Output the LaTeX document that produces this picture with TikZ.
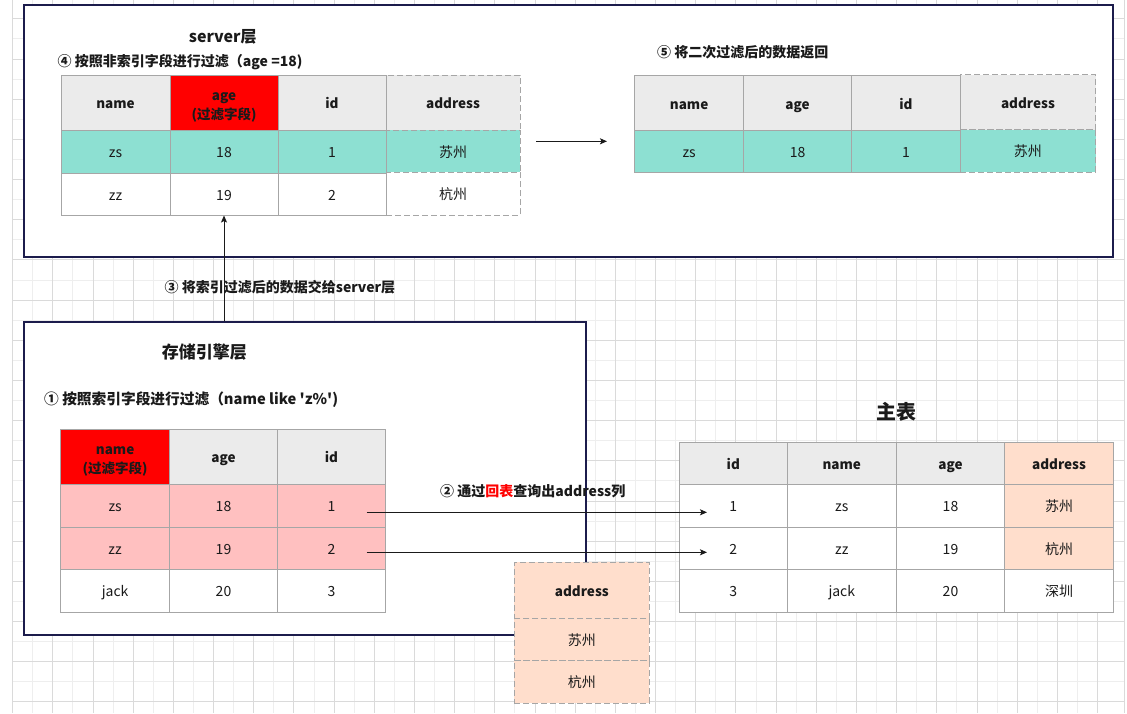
\documentclass[tikz,border=0pt]{standalone}
\usepackage{fontspec}
\setmainfont{Noto Sans CJK SC}
\newfontfamily\nf{Noto Sans CJK SC}
\usetikzlibrary{arrows.meta}
\definecolor{gridD}{HTML}{DADADA}
\definecolor{gridL}{HTML}{EEEEEE}
\definecolor{navyc}{HTML}{1C1C4C}
\definecolor{cellgray}{HTML}{A6A6A6}
\definecolor{hdrc}{HTML}{EBEBEB}
\definecolor{tealc}{HTML}{8DE0D2}
\definecolor{pinkc}{HTML}{FFC0C0}
\definecolor{peachc}{HTML}{FFDECC}
\definecolor{redc}{HTML}{FF0000}
\definecolor{txtc}{HTML}{1A1A1A}
\newcommand\tc[7]{%
  \node[cellbase,#6,minimum width={(#4-#2)*1pt},minimum height={(#5-#3)*1pt}]
    (#1) at ({(#2+#4)/2},{(#3+#5)/2}) {#7};}
\begin{document}
\begin{tikzpicture}[x=1pt,y=-1pt,
  cellbase/.style={draw=cellgray,line width=1pt,inner sep=0pt,align=center,
    text=txtc,font=\nf\fontsize{14}{16}\selectfont,anchor=center,
    text height=12pt,text depth=0pt},
  hd/.style={fill=hdrc,font=\nf\bfseries\fontsize{13.5}{16}\selectfont},
  two/.style={text height={},text depth={},font=\nf\bfseries\fontsize{13.5}{19.3}\selectfont},
  dsh/.style={dash pattern=on 6pt off 3pt},
  layerbox/.style={draw=navyc,fill=white,line width=1.1pt},
  lbl/.style={inner sep=0pt,anchor=west,text=txtc,font=\nf\bfseries\fontsize{14}{16}\selectfont},
  ttl/.style={inner sep=0pt,text=txtc,font=\nf\bfseries\fontsize{#1}{#1}\selectfont},
  arr/.style={draw=txtc,line width=1pt,-{Stealth[length=7pt,width=6pt,inset=1.5pt]}}]
\useasboundingbox (0,0) rectangle (1127,713);
\fill[white] (0,0) rectangle (1127,713);
% background grid
\foreach \i in {1,3,...,53}{\pgfmathsetmacro\xx{12.7+20.09*\i}\draw[gridL,line width=1pt] (\xx,0) -- (\xx,713);}
\foreach \j in {1,3,...,33}{\pgfmathsetmacro\yy{18.9+20.09*\j}\draw[gridL,line width=1pt] (12.7,\yy) -- (1124,\yy);}
\foreach \i in {0,2,...,54}{\pgfmathsetmacro\xx{12.7+20.09*\i}\draw[gridD,line width=1pt] (\xx,0) -- (\xx,713);}
\foreach \j in {0,2,...,34}{\pgfmathsetmacro\yy{18.9+20.09*\j}\draw[gridD,line width=1pt] (12.7,\yy) -- (1124,\yy);}
\draw[gridD,line width=1pt] (1124,0) -- (1124,713);
% layer boxes
\tc{server}{24}{5}{1113}{257}{layerbox}{}
\tc{storage}{24}{322}{586}{635}{layerbox}{}
% titles and labels
\node[ttl=16] (stitle) at (222.7,36.5) {server层};
\node[lbl] (s4) at (57.5,61.8) {④ 按照非索引字段进行过滤（age =18)};
\node[lbl] (s5) at (657,52.7) {⑤ 将二次过滤后的数据返回};
\node[lbl] (s3) at (164.5,287.3) {③ 将索引过滤后的数据交给server层};
\node[ttl=17] (etitle) at (204.4,352.5) {存储引擎层};
\node[lbl,font=\nf\bfseries\fontsize{14.7}{16}\selectfont] (s1) at (44,399.3) {① 按照索引字段进行过滤（name like 'z\%')};
\node[lbl] (s2) at (440,491.7) {② 通过\textcolor{redc}{回表}查询出address列};
\node[ttl=20] (mtitle) at (896,412.3) {主表};
% server table 1
\tc{aA}{386}{75}{520}{130}{hd,dsh}{address}
\tc{aB}{386}{130}{520}{172}{fill=tealc,dsh}{苏州}
\tc{aC}{386}{172}{520}{215}{fill=white,dsh}{杭州}
\tc{t1n}{61}{75.7}{170}{130}{hd}{name}
\tc{t1a}{170}{75.7}{278}{130}{hd,fill=redc,two}{\rule{0pt}{17pt}age\\(过滤字段)}
\tc{t1i}{278}{75.7}{386}{130}{hd}{id}
\tc{t1n1}{61}{130}{170}{173}{fill=tealc}{zs}
\tc{t1a1}{170}{130}{278}{173}{fill=tealc}{18}
\tc{t1i1}{278}{130}{386}{173}{fill=tealc}{1}
\tc{t1n2}{61}{173}{170}{215}{fill=white}{zz}
\tc{t1a2}{170}{173}{278}{215}{fill=white}{19}
\tc{t1i2}{278}{173}{386}{215}{fill=white}{2}
% server table 2
\tc{bA}{960.4}{74.5}{1095.5}{129.5}{hd,dsh}{address}
\tc{bB}{960.4}{129.5}{1095.5}{172.3}{fill=tealc,dsh}{苏州}
\tc{t2n}{634.5}{75.7}{743.7}{130.3}{hd}{name}
\tc{t2a}{743.7}{75.7}{851.5}{130.3}{hd}{age}
\tc{t2i}{851.5}{75.7}{960.4}{130.3}{hd}{id}
\tc{t2n1}{634.5}{130.3}{743.7}{172.3}{fill=tealc}{zs}
\tc{t2a1}{743.7}{130.3}{851.5}{172.3}{fill=tealc}{18}
\tc{t2i1}{851.5}{130.3}{960.4}{172.3}{fill=tealc}{1}
% storage table
\tc{e0n}{60.6}{429.3}{169.6}{484.3}{hd,fill=redc,two}{\rule{0pt}{17pt}name\\(过滤字段)}
\tc{e0a}{169.6}{429.3}{277.4}{484.3}{hd}{age}
\tc{e0i}{277.4}{429.3}{385.5}{484.3}{hd}{id}
\tc{e1n}{60.6}{484.3}{169.6}{527.3}{fill=pinkc}{zs}
\tc{e1a}{169.6}{484.3}{277.4}{527.3}{fill=pinkc}{18}
\tc{e1i}{277.4}{484.3}{385.5}{527.3}{fill=pinkc}{1}
\tc{e2n}{60.6}{527.3}{169.6}{569.3}{fill=pinkc}{zz}
\tc{e2a}{169.6}{527.3}{277.4}{569.3}{fill=pinkc}{19}
\tc{e2i}{277.4}{527.3}{385.5}{569.3}{fill=pinkc}{2}
\tc{e3n}{60.6}{569.3}{169.6}{612.3}{fill=white}{jack}
\tc{e3a}{169.6}{569.3}{277.4}{612.3}{fill=white}{20}
\tc{e3i}{277.4}{569.3}{385.5}{612.3}{fill=white}{3}
% main table
\tc{m0i}{679.3}{442.3}{787.3}{484.3}{hd}{id}
\tc{m0n}{787.3}{442.3}{896.3}{484.3}{hd}{name}
\tc{m0a}{896.3}{442.3}{1004.7}{484.3}{hd}{age}
\tc{m0d}{1004.7}{442.3}{1113.3}{484.3}{hd,fill=peachc}{address}
\tc{m1i}{679.3}{484.3}{787.3}{527.3}{fill=white}{1}
\tc{m1n}{787.3}{484.3}{896.3}{527.3}{fill=white}{zs}
\tc{m1a}{896.3}{484.3}{1004.7}{527.3}{fill=white}{18}
\tc{m1d}{1004.7}{484.3}{1113.3}{527.3}{fill=peachc}{苏州}
\tc{m2i}{679.3}{527.3}{787.3}{569.3}{fill=white}{2}
\tc{m2n}{787.3}{527.3}{896.3}{569.3}{fill=white}{zz}
\tc{m2a}{896.3}{527.3}{1004.7}{569.3}{fill=white}{19}
\tc{m2d}{1004.7}{527.3}{1113.3}{569.3}{fill=peachc}{杭州}
\tc{m3i}{679.3}{569.3}{787.3}{612}{fill=white}{3}
\tc{m3n}{787.3}{569.3}{896.3}{612}{fill=white}{jack}
\tc{m3a}{896.3}{569.3}{1004.7}{612}{fill=white}{20}
\tc{m3d}{1004.7}{569.3}{1113.3}{612}{fill=white}{深圳}
% fetched address column
\tc{c0}{514.3}{562.3}{649.4}{618.7}{hd,fill=peachc,dsh}{address}
\tc{c1}{514.3}{618.7}{649.4}{660.5}{fill=peachc,dsh}{苏州}
\tc{c2}{514.3}{660.5}{649.4}{703.3}{fill=peachc,dsh}{杭州}
% connectors
\draw[arr] (t1a2.south |- storage.north) -- (t1a2.south);
\coordinate (r1) at (536,141.3);
\coordinate (r2) at (607,141.3);
\draw[arr] (r1) -- (r2);
\coordinate (p1) at (366.6,512.3);
\coordinate (q1) at (707,512.3);
\draw[arr] (p1) -- (q1);
\coordinate (p2) at (366.6,552.3);
\coordinate (q2) at (707,552.3);
\draw[arr] (p2) -- (q2);
\end{tikzpicture}
\end{document}
